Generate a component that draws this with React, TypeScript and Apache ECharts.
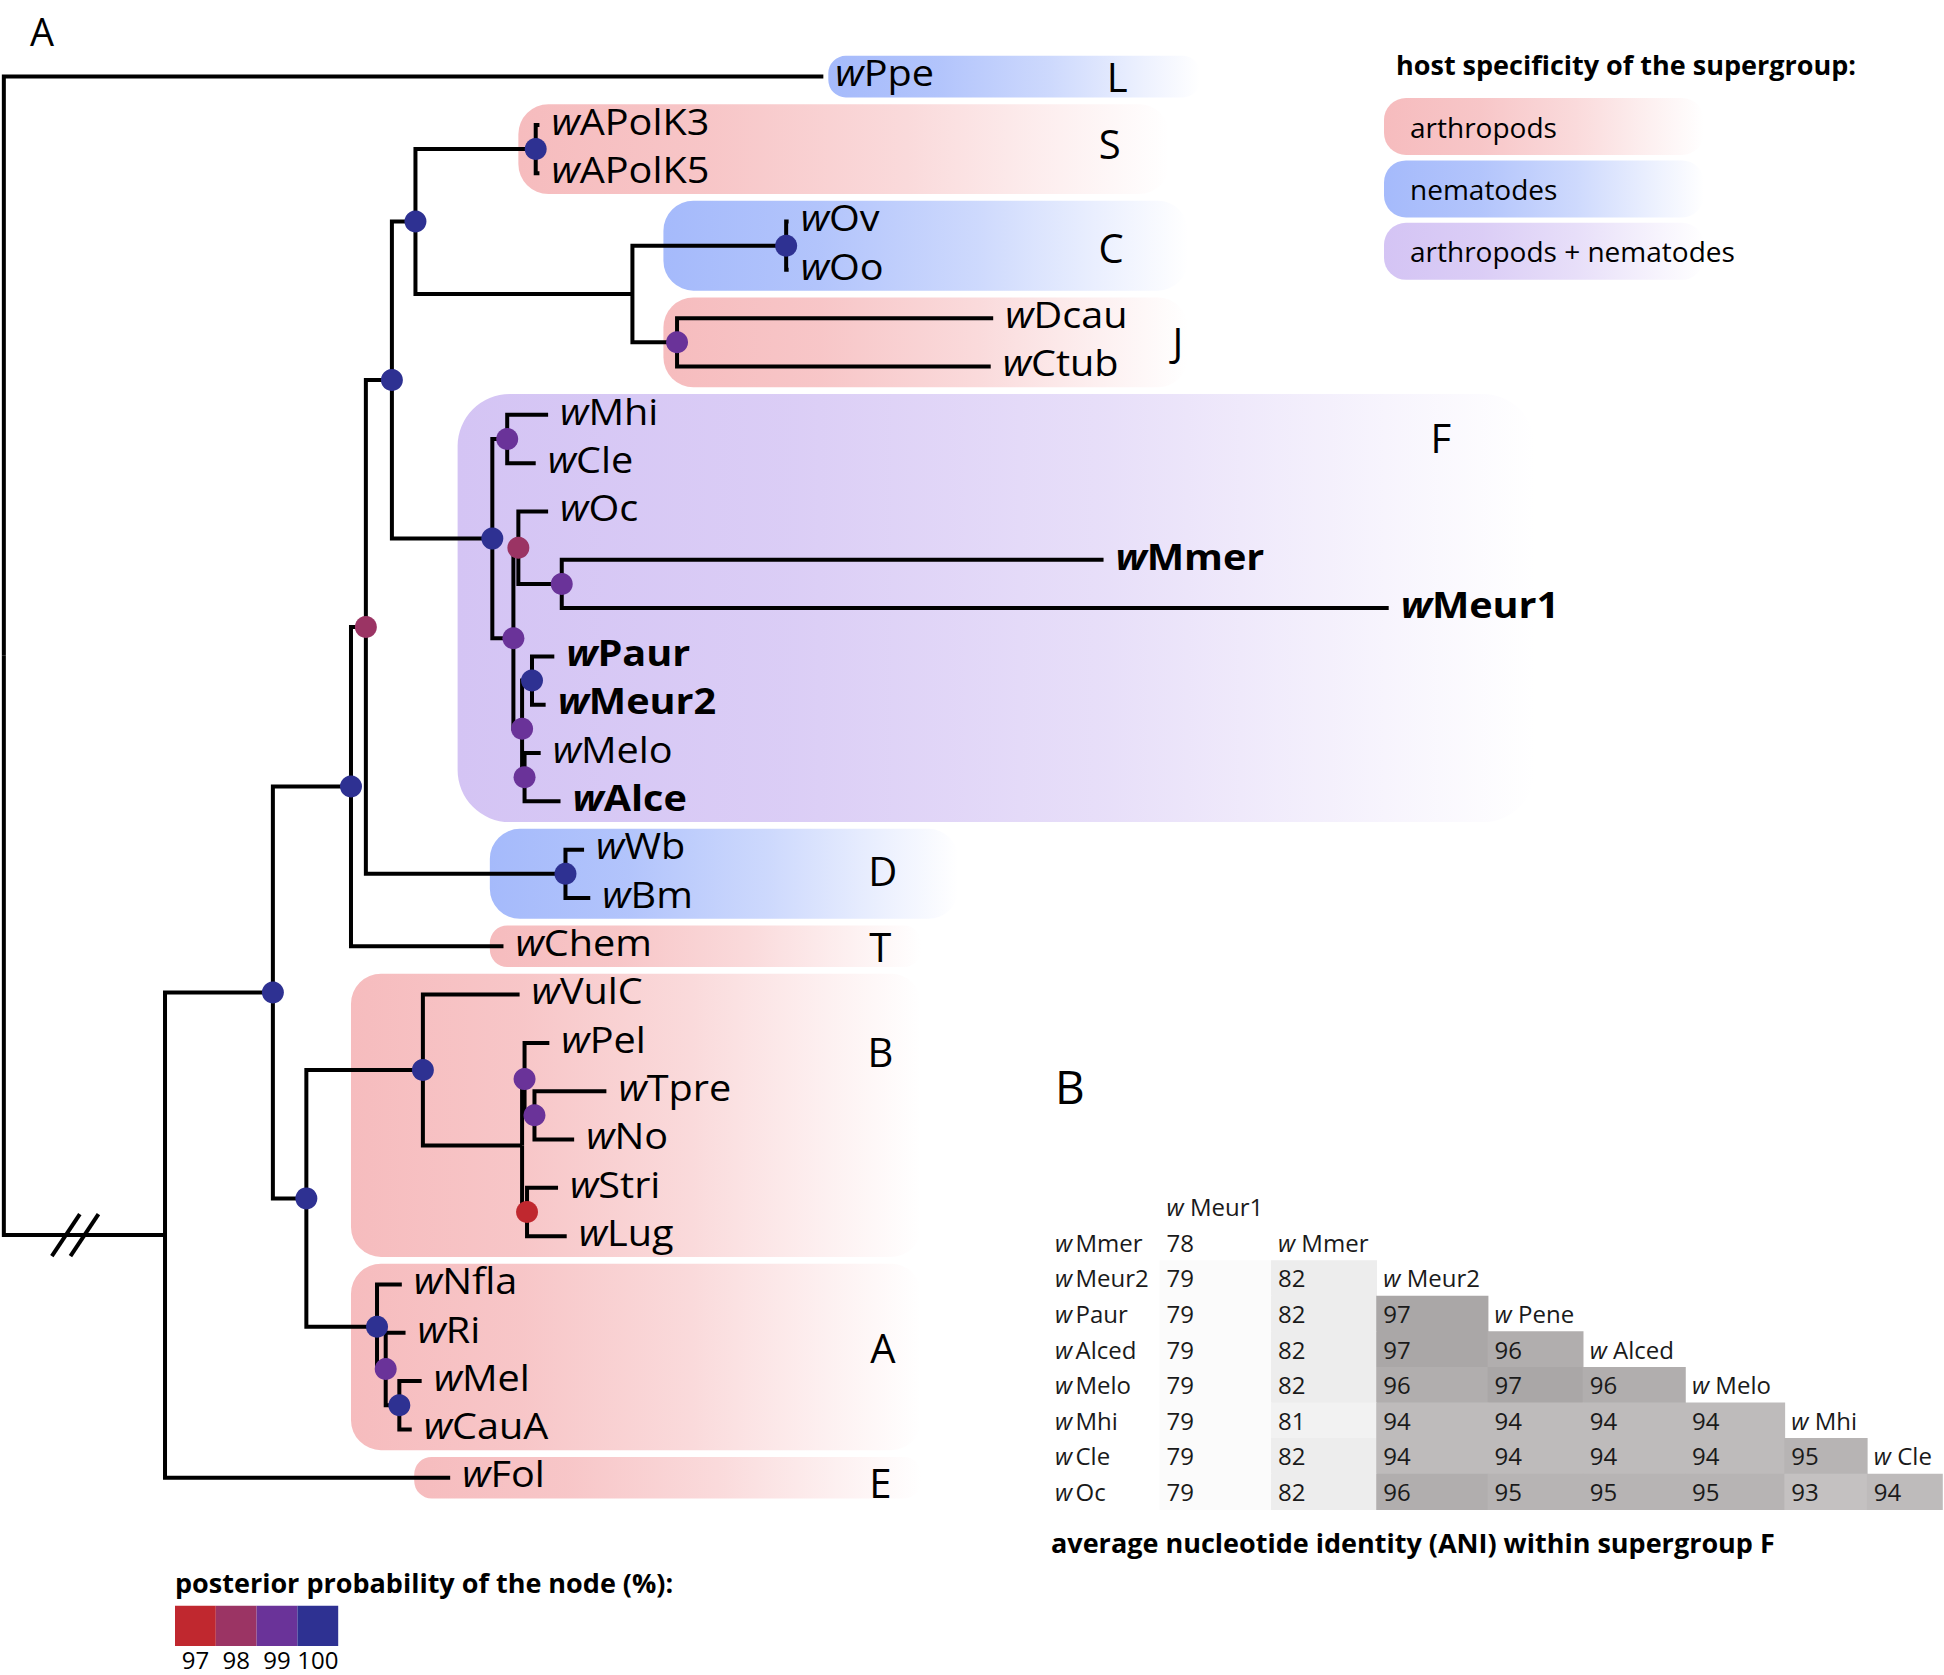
import React, { useEffect, useRef } from "react";
import * as echarts from "echarts";

const W = 1944;
const H = 1675;
const FONT = '"Open Sans", "Noto Sans", sans-serif';

// ---------- DATA ----------
// leaves, top to bottom (row index = position in this list)
const leafNames = [
  "Ppe", "APolK3", "APolK5", "Ov", "Oo", "Dcau", "Ctub", "Mhi", "Cle", "Oc",
  "Mmer", "Meur1", "Paur", "Meur2", "Melo", "Alce", "Wb", "Bm", "Chem", "VulC",
  "Pel", "Tpre", "No", "Stri", "Lug", "Nfla", "Ri", "Mel", "CauA", "Fol",
];
const boldLeaves = ["Mmer", "Meur1", "Paur", "Meur2", "Alce"];

// [node, parent, depth from root, posterior probability (%)]
const treeNodes: [string, string | null, number, number | null][] = [
  ["root", null, 0, null],
  ["Ppe", "root", 66.1, null],
  ["n133", "root", 13.0, null],
  ["n220", "n133", 21.7, 100],
  ["Fol", "n133", 36.0, null],
  ["n282", "n220", 28.0, 100],
  ["n247", "n220", 24.4, 100],
  ["n294", "n282", 29.2, 98],
  ["Chem", "n282", 40.3, null],
  ["n316", "n294", 31.3, 100],
  ["nD", "n294", 45.3, 100],
  ["Wb", "nD", 46.8, null],
  ["Bm", "nD", 47.3, null],
  ["n335", "n316", 33.2, 100],
  ["nF", "n316", 39.4, 100],
  ["nS", "n335", 42.9, 100],
  ["APolK3", "nS", 43.2, null],
  ["APolK5", "nS", 43.2, null],
  ["n510", "n335", 50.7, null],
  ["nC", "n510", 63.1, 100],
  ["Ov", "nC", 63.3, null],
  ["Oo", "nC", 63.3, null],
  ["nJ", "n510", 54.3, 99],
  ["Dcau", "nJ", 79.8, null],
  ["Ctub", "nJ", 79.6, null],
  ["nMhiCle", "nF", 40.6, 99],
  ["Mhi", "nMhiCle", 43.9, null],
  ["Cle", "nMhiCle", 42.9, null],
  ["nF2", "nF", 41.1, 99],
  ["nOc", "nF2", 41.5, 98],
  ["Oc", "nOc", 43.9, null],
  ["nMM", "nOc", 45.0, 99],
  ["Mmer", "nMM", 88.7, null],
  ["Meur1", "nMM", 111.7, null],
  ["nF3", "nF2", 41.8, 99],
  ["nPM", "nF3", 42.6, 100],
  ["Paur", "nPM", 44.4, null],
  ["Meur2", "nPM", 43.7, null],
  ["nMA", "nF3", 42.0, 99],
  ["Melo", "nMA", 43.3, null],
  ["Alce", "nMA", 44.9, null],
  ["nB", "n247", 33.8, 100],
  ["VulC", "nB", 41.6, null],
  ["nB2", "nB", 41.8, null],
  ["nB3", "nB2", 42.0, 99],
  ["Pel", "nB3", 44.0, null],
  ["nTN", "nB3", 42.8, 99],
  ["Tpre", "nTN", 48.6, null],
  ["No", "nTN", 46.0, null],
  ["nSL", "nB2", 42.2, 97],
  ["Stri", "nSL", 44.7, null],
  ["Lug", "nSL", 45.4, null],
  ["nA", "n247", 30.1, 100],
  ["Nfla", "nA", 32.1, null],
  ["nR", "nA", 30.8, 99],
  ["Ri", "nR", 32.4, null],
  ["nMC", "nR", 31.9, 100],
  ["Mel", "nMC", 33.7, null],
  ["CauA", "nMC", 32.9, null],
];

// supergroups
const cladeNames = ["L", "S", "C", "J", "F", "D", "T", "B", "A", "E"];
const cladeHost = [1, 0, 1, 0, 2, 1, 0, 0, 0, 0]; // index into hostTypes
const cladeFirstLeaf = ["Ppe", "APolK3", "Ov", "Dcau", "Mhi", "Wb", "Chem", "VulC", "Nfla", "Fol"];
const cladeLastLeaf = ["Ppe", "APolK5", "Oo", "Ctub", "Alce", "Bm", "Chem", "Lug", "CauA", "Fol"];
const hostTypes = ["arthropods", "nematodes", "arthropods + nematodes"];
const supportLevels = [97, 98, 99, 100];

// ANI table (supergroup F)
const aniRows = ["Mmer", "Meur2", "Paur", "Alced", "Melo", "Mhi", "Cle", "Oc"];
const aniCols = ["Meur1", "Mmer", "Meur2", "Pene", "Alced", "Melo", "Mhi", "Cle"];
const aniValues = [
  [78],
  [79, 82],
  [79, 82, 97],
  [79, 82, 97, 96],
  [79, 82, 96, 97, 96],
  [79, 81, 94, 94, 94, 94],
  [79, 82, 94, 94, 94, 94, 95],
  [79, 82, 96, 95, 95, 95, 93, 94],
];

// ---------- LAYOUT / STYLE ----------
// clade highlight extent (in tree depth units) and letter placement [depth, row]
const cladeBoxFrom = [66.5, 41.5, 53.2, 53.2, 36.6, 39.2, 39.2, 28.0, 28.0, 33.1];
const cladeBoxTo = [96.5, 94.0, 95.5, 95.5, 123.5, 77.0, 74.0, 74.0, 74.0, 74.0];
const cladeLetterAt: [number, number][] = [
  [89.8, 0], [89.2, 1.38], [89.3, 3.53], [94.7, 5.49], [115.9, 7.47],
  [70.9, 16.43], [70.7, 18.0], [70.7, 20.17], [70.9, 26.3], [70.7, 29.1],
];
// relative spreadsheet column widths of the ANI table
const aniColWidths = [111.5, 105.3, 111.4, 95.1, 102.3, 99.4, 82.5, 75.2];
const ROW_PAD = 0.43;
const BREAK_AT = [5.0, 6.5];
const hostRGB = ["246,188,190", "165,186,251", "212,196,244"];
const supportColor: Record<number, string> = {
  97: "#c0282f",
  98: "#9b3464",
  99: "#6a3399",
  100: "#2e3192",
};
const LABEL_SIZE = 36;
const LABEL_STRETCH = 1.1;
const TABLE_SIZE = 24;

function fade(rgb: string) {
  return new echarts.graphic.LinearGradient(0, 0, 1, 0, [
    { offset: 0, color: `rgba(${rgb},1)` },
    { offset: 0.3, color: `rgba(${rgb},0.85)` },
    { offset: 0.6, color: `rgba(${rgb},0.55)` },
    { offset: 0.85, color: `rgba(${rgb},0.2)` },
    { offset: 1, color: `rgba(${rgb},0)` },
  ]);
}

function aniShade(v: number) {
  const stops = [[78, 255], [82, 237], [93, 193], [97, 167]];
  let g = 255;
  for (let i = 0; i < stops.length - 1; i++) {
    const [a, ga] = stops[i];
    const [b, gb] = stops[i + 1];
    if (v >= a && v <= b) g = ga + ((v - a) / (b - a)) * (gb - ga);
  }
  if (v > 97) g = 167;
  const r = Math.round(g + (v >= 90 ? 3 : 0));
  const gg = Math.round(g);
  return `rgb(${r},${gg},${gg})`;
}

// ---------- TREE GEOMETRY ----------
function buildTree() {
  const depth: Record<string, number> = {};
  const support: Record<string, number | null> = {};
  const children: Record<string, string[]> = {};
  treeNodes.forEach(([n, p, d, s]) => {
    depth[n] = d;
    support[n] = s;
    if (p) (children[p] = children[p] || []).push(n);
  });
  const row: Record<string, number> = {};
  const getRow = (n: string): number => {
    if (row[n] !== undefined) return row[n];
    const ch = children[n];
    if (!ch) row[n] = leafNames.indexOf(n);
    else {
      const ys = ch.map(getRow);
      row[n] = (Math.min(...ys) + Math.max(...ys)) / 2;
    }
    return row[n];
  };
  treeNodes.forEach(([n]) => getRow(n));
  const edges: number[][] = [];
  const dots: number[][] = [];
  const leaves: number[][] = [];
  treeNodes.forEach(([n, p]) => {
    if (p) edges.push([depth[p], row[p], depth[n], row[n], p === "root" && n === "n133" ? 1 : 0]);
    if (support[n] != null) dots.push([depth[n], row[n], support[n] as number]);
    if (!children[n]) leaves.push([depth[n], row[n], leafNames.indexOf(n)]);
  });
  return { edges, dots, leaves };
}

const App: React.FC = () => {
  const ref = useRef<HTMLDivElement>(null);

  useEffect(() => {
    document.body.style.margin = "0";
    if (!ref.current) return;
    const chart = echarts.init(ref.current, null, { renderer: "svg", width: W, height: H });
    const { edges, dots, leaves } = buildTree();

    const cladeData = cladeNames.map((_, i) => [
      cladeBoxFrom[i],
      cladeBoxTo[i],
      leafNames.indexOf(cladeFirstLeaf[i]),
      leafNames.indexOf(cladeLastLeaf[i]),
      cladeHost[i],
    ]);
    const letterData = cladeNames.map((_, i) => [cladeLetterAt[i][0], cladeLetterAt[i][1], i]);

    const colEdges: number[] = [0];
    aniColWidths.forEach((w, i) => colEdges.push(colEdges[i] + w));
    const tableSpan = colEdges[colEdges.length - 1];

    const aniCells: number[][] = [];
    aniValues.forEach((vals, r) => vals.forEach((v, c) => aniCells.push([c, r + 1, v])));
    const aniHeads = aniCols.map((_, c) => [c, c, c]);

    const richW = (size: number, weight: string) => ({
      i: { fontStyle: "italic", fontWeight: weight, fontSize: size, fontFamily: FONT, fill: "#000", color: "#000" },
      r: { fontStyle: "normal", fontWeight: weight, fontSize: size, fontFamily: FONT, fill: "#000", color: "#000" },
    });
    const richTable = {
      i: { fontStyle: "italic", fontSize: TABLE_SIZE, fontFamily: FONT, fill: "#1a1a1a", color: "#1a1a1a" },
      r: { fontStyle: "normal", fontSize: TABLE_SIZE, fontFamily: FONT, fill: "#1a1a1a", color: "#1a1a1a" },
    };

    const plain = (
      text: string,
      x: number,
      y: number,
      size: number,
      weight = "normal",
      align = "left",
      vAlign = "middle"
    ) => ({
      type: "text",
      x,
      y,
      style: {
        text,
        fill: "#000",
        fontSize: size,
        fontFamily: FONT,
        fontWeight: weight,
        align,
        textAlign: align,
        verticalAlign: vAlign,
        textVerticalAlign: vAlign,
      },
    });

    const graphics: any[] = [
      plain("A", 30, 12, 38, "normal", "left", "top"),
      plain("B", 1055, 1086, 46),
      plain("host specificity of the supergroup:", 1396, 64, 27, "bold"),
      plain("posterior probability of the node (%):", 175, 1582, 27, "bold"),
      plain("average nucleotide identity (ANI) within supergroup F", 1051, 1542, 27, "bold"),
    ];
    hostTypes.forEach((h, i) => {
      const y = 98 + i * 62.4;
      graphics.push({
        type: "rect",
        shape: { x: 1384, y, width: 320, height: 57, r: 22 },
        style: { fill: fade(hostRGB[i]) },
      });
      graphics.push(plain(h, 1410, y + 28.5, 28));
    });
    supportLevels.forEach((s, i) => {
      const x = 175 + i * 40.8;
      graphics.push({
        type: "rect",
        shape: { x, y: 1605.7, width: 40.8, height: 40.3 },
        style: { fill: supportColor[s] },
      });
      graphics.push(plain(String(s), x + 20.4, 1659, 24, "normal", "center"));
    });

    const option: any = {
      animation: false,
      backgroundColor: "#ffffff",
      grid: [
        { left: 0, top: 0, width: W, height: H },
        { left: 1159.5, top: 1189, width: 782.5, height: 320.3 },
      ],
      xAxis: [
        { type: "value", gridIndex: 0, min: -0.31, max: 156.49, show: false },
        { type: "value", gridIndex: 1, min: 0, max: tableSpan, show: false },
      ],
      yAxis: [
        { type: "value", gridIndex: 0, min: -1.586, max: 33.084, inverse: true, show: false },
        {
          type: "category",
          gridIndex: 1,
          data: ["header", ...aniRows],
          inverse: true,
          axisLine: { show: false },
          axisTick: { show: false },
          splitLine: { show: false },
          axisLabel: {
            show: true,
            align: "left",
            margin: 104.5,
            formatter: (v: string) => (v === "header" ? "" : `{i|w} {r|${v}}`),
            rich: {
              i: { fontStyle: "italic", fontSize: TABLE_SIZE, fontFamily: FONT, color: "#1a1a1a" },
              r: { fontSize: TABLE_SIZE, fontFamily: FONT, color: "#1a1a1a" },
            },
          },
        },
      ],
      graphic: { elements: graphics },
      series: [
        {
          type: "custom",
          name: "clades",
          xAxisIndex: 0,
          yAxisIndex: 0,
          z: 1,
          data: cladeData,
          renderItem: (_p: any, api: any) => {
            const a = api.coord([api.value(0), api.value(2) - ROW_PAD]);
            const b = api.coord([api.value(1), api.value(3) + ROW_PAD]);
            const h = b[1] - a[1];
            const r = h > 350 ? 52 : Math.min(30, h * 0.42);
            return {
              type: "rect",
              shape: { x: a[0], y: a[1], width: b[0] - a[0], height: h, r },
              style: { fill: fade(hostRGB[api.value(4)]) },
            };
          },
        },
        {
          type: "custom",
          name: "letters",
          xAxisIndex: 0,
          yAxisIndex: 0,
          z: 2,
          data: letterData,
          renderItem: (_p: any, api: any) => {
            const c = api.coord([api.value(0), api.value(1)]);
            return plain(cladeNames[api.value(2)], c[0], c[1], 40, "normal", "center");
          },
        },
        {
          type: "custom",
          name: "branches",
          xAxisIndex: 0,
          yAxisIndex: 0,
          z: 3,
          data: edges,
          renderItem: (_p: any, api: any) => {
            const p0 = api.coord([api.value(0), api.value(1)]);
            const p1 = api.coord([api.value(0), api.value(3)]);
            const p2 = api.coord([api.value(2), api.value(3)]);
            const children: any[] = [
              {
                type: "polyline",
                shape: { points: [p0, p1, p2] },
                style: { stroke: "#000", lineWidth: 4, fill: null, lineJoin: "miter", lineCap: "butt" },
              },
            ];
            if (api.value(4) === 1) {
              BREAK_AT.forEach((bx) => {
                const c = api.coord([bx, api.value(3)]);
                children.push({
                  type: "line",
                  shape: { x1: c[0] - 14, y1: c[1] + 21, x2: c[0] + 14, y2: c[1] - 21 },
                  style: { stroke: "#000", lineWidth: 4 },
                });
              });
            }
            return { type: "group", children };
          },
        },
        {
          type: "scatter",
          name: "support",
          xAxisIndex: 0,
          yAxisIndex: 0,
          z: 4,
          symbol: "circle",
          symbolSize: 22,
          data: dots,
          itemStyle: { opacity: 1, color: (p: any) => supportColor[p.value[2]] },
        },
        {
          type: "custom",
          name: "leaves",
          xAxisIndex: 0,
          yAxisIndex: 0,
          z: 5,
          data: leaves,
          renderItem: (_p: any, api: any) => {
            const c = api.coord([api.value(0), api.value(1)]);
            const name = leafNames[api.value(2)];
            const w = boldLeaves.includes(name) ? "bold" : "normal";
            return {
              type: "text",
              x: c[0] + 12,
              y: c[1] - 4,
              scaleX: LABEL_STRETCH,
              style: {
                text: `{i|w}{r|${name}}`,
                fill: "#000",
                fontSize: LABEL_SIZE,
                fontFamily: FONT,
                fontWeight: w,
                align: "left",
                textAlign: "left",
                verticalAlign: "middle",
                textVerticalAlign: "middle",
                rich: richW(LABEL_SIZE, w),
              },
            };
          },
        },
        {
          type: "custom",
          name: "ANI",
          xAxisIndex: 1,
          yAxisIndex: 1,
          z: 2,
          data: aniCells,
          renderItem: (_p: any, api: any) => {
            const col = api.value(0);
            const rowIdx = api.value(1);
            const v = api.value(2);
            const a = api.coord([colEdges[col], rowIdx]);
            const b = api.coord([colEdges[col + 1], rowIdx]);
            const bh = api.size([0, 1])[1];
            const y0 = a[1] - bh / 2;
            return {
              type: "group",
              children: [
                {
                  type: "rect",
                  shape: { x: a[0], y: y0, width: b[0] - a[0] + 0.8, height: bh + 0.8 },
                  style: { fill: aniShade(v) },
                },
                {
                  type: "text",
                  x: a[0] + 7,
                  y: a[1],
                  style: {
                    text: String(v),
                    fill: "#1a1a1a",
                    fontSize: TABLE_SIZE,
                    fontFamily: FONT,
                    align: "left",
                    textAlign: "left",
                    verticalAlign: "middle",
                    textVerticalAlign: "middle",
                  },
                },
              ],
            };
          },
        },
        {
          type: "custom",
          name: "ANI headers",
          xAxisIndex: 1,
          yAxisIndex: 1,
          z: 3,
          data: aniHeads,
          renderItem: (_p: any, api: any) => {
            const col = api.value(0);
            const a = api.coord([colEdges[col], api.value(1)]);
            const name = aniCols[api.value(2)];
            return {
              type: "text",
              x: a[0] + 7,
              y: a[1],
              style: {
                text: `{i|w} {r|${name}}`,
                fill: "#1a1a1a",
                fontSize: TABLE_SIZE,
                fontFamily: FONT,
                align: "left",
                textAlign: "left",
                verticalAlign: "middle",
                textVerticalAlign: "middle",
                rich: richTable,
              },
            };
          },
        },
      ],
    };

    chart.setOption(option);
    return () => chart.dispose();
  }, []);

  return <div ref={ref} style={{ width: W, height: H }} />;
};

export default App;
